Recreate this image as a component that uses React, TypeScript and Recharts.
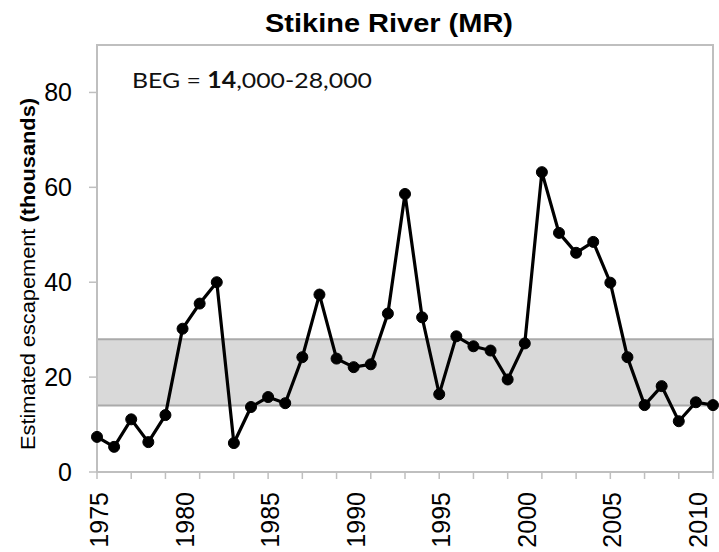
import React from 'react';
import { LineChart, Line, XAxis, YAxis, ReferenceArea } from 'recharts';

const years = [
  1975, 1976, 1977, 1978, 1979, 1980, 1981, 1982, 1983, 1984, 1985, 1986, 1987,
  1988, 1989, 1990, 1991, 1992, 1993, 1994, 1995, 1996, 1997, 1998, 1999, 2000,
  2001, 2002, 2003, 2004, 2005, 2006, 2007, 2008, 2009, 2010, 2011,
];
const escapement = [
  7.4, 5.3, 11.1, 6.3, 12.0, 30.2, 35.5, 40.0, 6.1, 13.7, 15.8, 14.5, 24.2,
  37.4, 23.9, 22.1, 22.7, 33.4, 58.6, 32.6, 16.4, 28.6, 26.5, 25.6, 19.5, 27.1,
  63.2, 50.4, 46.2, 48.5, 39.9, 24.2, 14.1, 18.1, 10.7, 14.7, 14.1,
];
const yTicks = [0, 20, 40, 60, 80];
const xLabelYears = [1975, 1980, 1985, 1990, 1995, 2000, 2005, 2010];
const xTickMarkYears = years.filter((y) => y % 2 === 1);
const begLow = 14;
const begHigh = 28;

const data = years.map((year, i) => ({ year, value: escapement[i] }));

const FONT = 'Liberation Sans, Arial, sans-serif';
const AXIS_GRAY = '#bfbfbf';

const XTick = (props: any) => {
  const { x, y, payload } = props;
  const yr = payload.value;
  return (
    <g>
      {xTickMarkYears.includes(yr) && (
        <line x1={x} x2={x} y1={y} y2={y + 7} stroke={AXIS_GRAY} strokeWidth={1.5} />
      )}
      {xLabelYears.includes(yr) && (
        <text
          x={x + 2}
          y={y + 20}
          transform={`rotate(-90, ${x + 2}, ${y + 20})`}
          textAnchor="end"
          dominantBaseline="central"
          fontFamily={FONT}
          fontSize={25}
          fill="#000"
        >
          {yr}
        </text>
      )}
    </g>
  );
};

const YLabel = () => (
  <text
    x={28}
    y={274}
    transform="rotate(-90, 28, 274)"
    textAnchor="middle"
    dominantBaseline="central"
    fontFamily={FONT}
    fontSize={20}
    textLength={352}
    lengthAdjust="spacingAndGlyphs"
    fill="#000"
  >
    <tspan>Estimated escapement </tspan>
    <tspan fontWeight="bold"> (thousands)</tspan>
  </text>
);

export default function App() {
  return (
    <div style={{ position: 'absolute', left: 0, top: 0, width: 719, height: 552, background: '#fff' }}>
      <LineChart
        width={719}
        height={552}
        data={data}
        margin={{ top: 45, right: 6, bottom: 0, left: 0 }}
      >
        <XAxis
          dataKey="year"
          type="number"
          domain={[1975, 2011]}
          ticks={years}
          interval={0}
          tickLine={false}
          tickSize={0}
          tickMargin={0}
          height={80}
          axisLine={{ stroke: AXIS_GRAY, strokeWidth: 2 }}
          tick={<XTick />}
        />
        <YAxis
          type="number"
          domain={[0, 90]}
          ticks={yTicks}
          interval={0}
          width={97}
          tickSize={8}
          tickMargin={17}
          axisLine={{ stroke: AXIS_GRAY, strokeWidth: 2 }}
          tickLine={{ stroke: AXIS_GRAY, strokeWidth: 1.5 }}
          tick={{ fill: '#000', fontSize: 25, fontFamily: FONT }}
          label={<YLabel />}
        />
        <ReferenceArea
          x1={1975}
          x2={2011}
          y1={0}
          y2={90}
          fill="none"
          stroke={AXIS_GRAY}
          strokeWidth={2}
        />
        <ReferenceArea
          y1={begLow}
          y2={begHigh}
          fill="#d9d9d9"
          fillOpacity={1}
          stroke="#aaaaaa"
          strokeWidth={2}
        />
        <Line
          type="linear"
          dataKey="value"
          stroke="#000"
          strokeWidth={3.2}
          dot={{ r: 5.5, fill: '#000', stroke: '#000', strokeWidth: 1 }}
          isAnimationActive={false}
        />
      </LineChart>
      <svg
        width={719}
        height={552}
        style={{ position: 'absolute', left: 0, top: 0, pointerEvents: 'none' }}
      >
        <text
          x={389}
          y={32}
          textAnchor="middle"
          fontFamily={FONT}
          fontWeight="bold"
          fontSize={26}
          textLength={248}
          lengthAdjust="spacingAndGlyphs"
          fill="#000"
        >
          Stikine River  (MR)
        </text>
        <text
          x={132}
          y={88}
          fontFamily="Lato, 'Open Sans', sans-serif"
          fontSize={22}
          textLength={240}
          lengthAdjust="spacingAndGlyphs"
          fill="#111"
        >
          <tspan>BEG = </tspan>
          <tspan fontWeight="bold">14</tspan>
          <tspan>,000-28,000</tspan>
        </text>
      </svg>
    </div>
  );
}
